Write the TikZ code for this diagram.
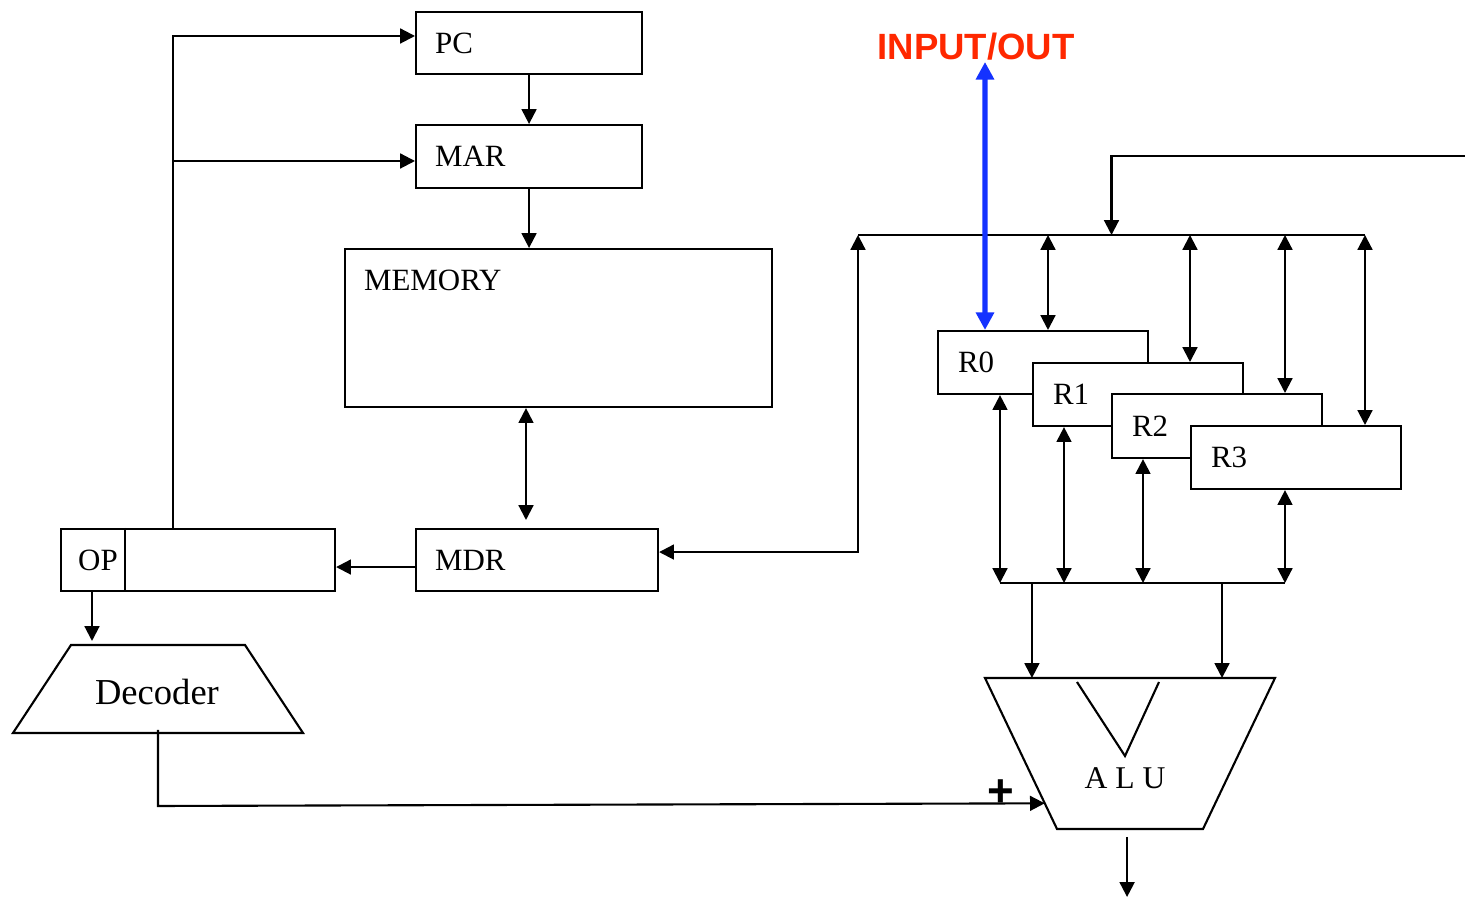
\documentclass[tikz,border=0pt]{standalone}
\usepackage{fontspec}
\setmainfont{Liberation Serif}
\newfontfamily\headfont{Liberation Sans}
\usetikzlibrary{arrows.meta,calc}
\definecolor{ioRed}{RGB}{255,40,0}
\definecolor{ioBlue}{RGB}{20,50,255}
\tikzset{
  box/.style={draw,fill=white,inner sep=0pt,anchor=north west},
  reg/.style={box,minimum width=21mm,minimum height=6.3mm},
  lbl/.style={inner sep=0pt,anchor=west,font=\fontsize{8.8}{10}\selectfont},
}
\begin{document}
\begin{tikzpicture}[x=.1mm,y=-.1mm,line width=.6pt,>={Triangle[length=4.2pt,width=4.2pt]}]
  \useasboundingbox (0,0) rectangle (1465,898);
  % memory side
  \node[box,minimum width=22.6mm,minimum height=6.2mm] (pc) at (415,11) {};
  \node[box,minimum width=22.6mm,minimum height=6.3mm] (mar) at (415,124) {};
  \node[box,minimum width=42.7mm,minimum height=15.8mm] (mem) at (344,248) {};
  \node[box,minimum width=24.2mm,minimum height=6.2mm] (mdr) at (415,528) {};
  \node[box,minimum width=27.4mm,minimum height=6.2mm] (ir) at (60,528) {};
  \draw ([xshift=6.5mm]ir.north west) -- ([xshift=6.5mm]ir.south west);
  \node[lbl] (pctxt) at ([xshift=1.9mm]pc.west) {PC};
  \node[lbl] (martxt) at ([xshift=1.9mm]mar.west) {MAR};
  \node[lbl] (memtxt) at ([xshift=1.9mm,yshift=-3.2mm]mem.north west) {MEMORY};
  \node[lbl] (mdrtxt) at ([xshift=1.9mm]mdr.west) {MDR};
  \node[lbl,anchor=center] (optxt) at ([xshift=3.8mm]ir.west) {OP};
  % decoder
  \coordinate (decTL) at (71,645);
  \coordinate (decTR) at (245,645);
  \coordinate (decBR) at (303,733);
  \coordinate (decBL) at (13,733);
  \draw (decTL) -- (decTR) -- (decBR) -- (decBL) -- cycle;
  \node[font=\fontsize{10.4}{12}\selectfont] (dec) at (157,692) {Decoder};
  \draw[->] (pc) -- (mar);
  \draw[->] (mar) -- (mar |- mem.north);
  \draw[<->] (mem.south -| 526,0) -- ([yshift=.8mm]mdr.north -| 526,0);
  \draw[->] ([yshift=-.7mm]mdr.west) -- ([yshift=-.7mm]mdr.west -| ir.east);
  \coordinate (loopTop) at (173,36);
  \draw[->] (ir.north -| loopTop) -- (loopTop) -- (loopTop -| pc.west);
  \draw[->] (173,161) -- (173,161 -| mar.west);
  \draw[->] ([xshift=3.2mm]ir.south west) -- ([xshift=3.2mm,yshift=.4mm]ir.south west |- decTL);
  % registers
  \node[reg] (r0) at (937,330) {};
  \node[lbl] (r0txt) at ([xshift=2mm]r0.west) {R0};
  \node[reg] (r1) at (1032,362) {};
  \node[lbl] (r1txt) at ([xshift=2mm]r1.west) {R1};
  \node[reg,minimum height=6.4mm] (r2) at (1111,393) {};
  \node[lbl] (r2txt) at ([xshift=2mm]r2.west) {R2};
  \node[reg] (r3) at (1190,425) {};
  \node[lbl] (r3txt) at ([xshift=2mm]r3.west) {R3};
  % upper bus
  \coordinate (busL) at (858,235);
  \coordinate (busR) at (1365,235);
  \coordinate (ext) at (1465,156);
  \draw (busL) -- (busR);
  \draw[<->] ([yshift=.8mm]mdr.east) -| (busL);
  \draw[->] (ext) -| ($(busL)!.5!(busR)$);
  \draw[<->] ([xshift=11.1mm]r0.north west |- busL) -- ([xshift=11.1mm]r0.north west);
  \draw[<->] ([xshift=15.8mm]r1.north west |- busL) -- ([xshift=15.8mm]r1.north west);
  \draw[<->] ([xshift=17.4mm]r2.north west |- busL) -- ([xshift=17.4mm]r2.north west);
  \draw[<->] ([xshift=17.5mm]r3.north west |- busL) -- ([xshift=17.5mm]r3.north west);
  % lower bus
  \coordinate (lbL) at (1000,583);
  \coordinate (lbR) at (1285,583);
  \draw (lbL) -- (lbR);
  \draw[<->] ([xshift=6.3mm]r0.south west) -- ([xshift=6.3mm]r0.south west |- lbL);
  \draw[<->] ([xshift=3.2mm]r1.south west) -- ([xshift=3.2mm]r1.south west |- lbL);
  \draw[<->] ([xshift=3.2mm]r2.south west) -- ([xshift=3.2mm]r2.south west |- lbL);
  \draw[<->] ([xshift=9.5mm]r3.south west) -- ([xshift=9.5mm]r3.south west |- lbL);
  % alu
  \coordinate (aluTL) at (985,678);
  \coordinate (aluTR) at (1275,678);
  \coordinate (aluBR) at (1203,829);
  \coordinate (aluBL) at (1057,829);
  \draw (aluTL) -- (aluTR) -- (aluBR) -- (aluBL) -- cycle;
  \draw (1077,682) -- (1125,756) -- (1159,682);
  \node[font=\fontsize{9}{10}\selectfont] (alutxt) at (1125,778) {A L U};
  \coordinate (inA) at ($(lbL)!.112!(lbR)$);
  \coordinate (inB) at ($(lbL)!.779!(lbR)$);
  \draw[->] (inA) -- (inA |- aluTL);
  \draw[->] (inB) -- (inB |- aluTL);
  \draw[->] ($(aluBL)!.48!(aluBR)$) ++(0,8) -- ++(0,60);
  \coordinate (aluIn) at ($(aluTL)!.83!(aluBL)$);
  \draw[->] ($(decBL)!.5!(decBR)$) ++(0,-3) -- ++(0,76) -- (aluIn);
  \node[font=\headfont\bfseries\fontsize{13}{14}\selectfont] (plus) at (1001,793) {+};
  % input / output
  \node[text=ioRed,font=\headfont\bfseries\fontsize{10.4}{12}\selectfont] (io) at (976,47) {INPUT/OUT};
  \coordinate (ioTip) at (985,62);
  \draw[<->,ioBlue,line width=1.5pt,>={Triangle[length=5pt,width=5pt]}] (ioTip) -- ([xshift=4.8mm]r0.north west);
\end{tikzpicture}
\end{document}
